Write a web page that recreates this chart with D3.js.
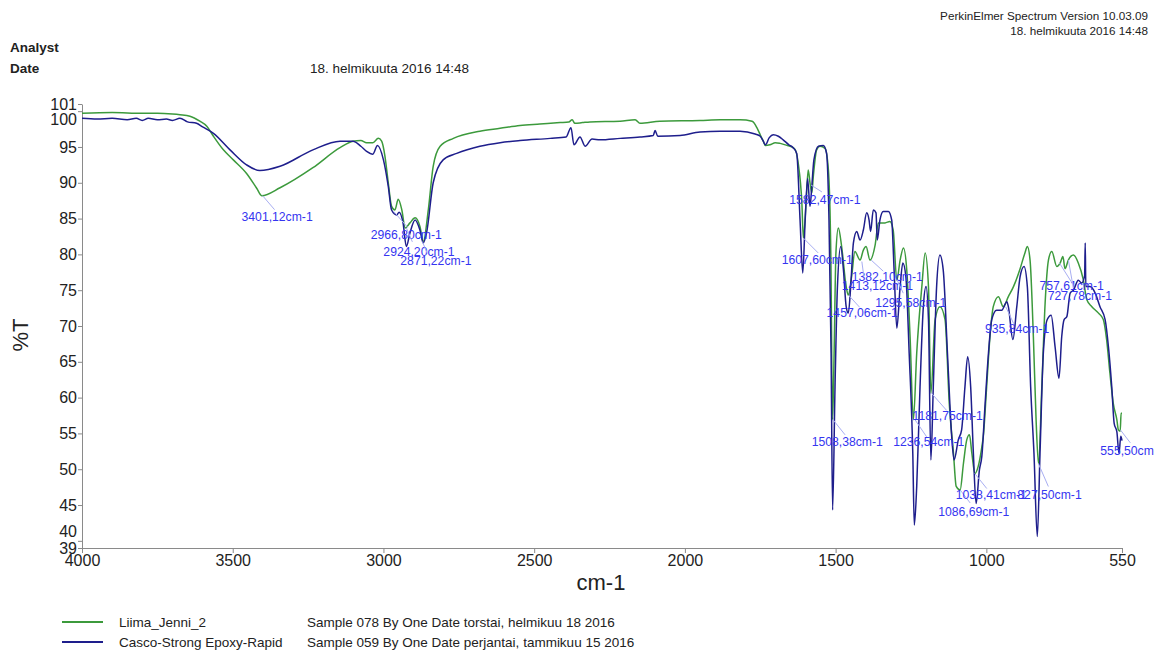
<!DOCTYPE html>
<html>
<head>
<meta charset="utf-8">
<script src="https://cdn.jsdelivr.net/npm/d3@7"></script>
<style>
html,body{margin:0;padding:0;background:#fff;overflow:hidden;}
svg{display:block;font-family:Arial,"Liberation Sans",sans-serif;}
</style>
</head>
<body>
<svg id="chart" width="1154" height="650"></svg>
<script>
// ---------- data ----------
const seriesNames = ["Liima_Jenni_2", "Casco-Strong Epoxy-Rapid"];
const seriesInfo = ["Sample 078 By One Date torstai, helmikuu 18 2016",
                    "Sample 059 By One Date perjantai, tammikuu 15 2016"];

const greenWn = [4000,3900,3800,3750,3700,3675,3642,3609,3586,3564,3531,3498,3454,3420,3404,3343,3234,3144,3101,3075,3056,3035,3017,3006,2995,2984,2973,2962,2951,2939,2928,2912,2895,2879,2868,2851,2835,2812,2768,2680,2613,2547,2481,2414,2385,2374,2365,2340,2315,2215,2165,2149,2083,1950,1883,1817,1777,1760,1750,1740,1733,1718,1700,1684,1660,1651,1635,1624,1612,1607,1598,1591,1585,1579,1574,1563,1552,1535,1524,1516,1510,1505,1499,1491,1480,1465,1458,1447,1436,1419,1408,1399,1386,1369,1358,1336,1320,1309,1297,1286,1275,1264,1253,1242,1231,1214,1203,1192,1184,1170,1154,1137,1123,1109,1100,1087,1076,1065,1056,1048,1038,1027,1015,1010,999,988,977,960,944,927,910,888,872,864,855,844,835,827,816,805,794,783,766,755,746,739,728,711,695,678,667,650,628,612,601,590,579,567,562,556,553,550];
const greenT  = [99.7,99.8,99.7,99.7,99.6,99.5,99.3,98.6,97.9,96.5,94.6,93.2,91.3,89.2,88.2,89.3,92.1,94.9,95.8,95.9,95.6,95.6,96.2,95.8,93.7,90.0,86.7,86.2,87.7,86.2,83.7,84.4,85.1,83.9,81.8,86.3,92.3,95.1,96.2,97.2,97.6,98.0,98.2,98.4,98.5,98.8,98.3,98.4,98.5,98.6,98.8,98.3,98.6,98.7,98.8,98.8,98.6,97.6,96.7,95.8,95.2,95.3,95.6,95.5,95.2,95.1,94.7,92.7,87.2,82.3,87.2,91.8,90.0,88.6,90.9,94.6,95.1,94.8,91.8,80.2,56.9,66.2,80.2,83.7,81.1,75.5,74.3,76.9,80.4,79.2,80.6,81.1,79.2,81.3,84.4,84.4,84.6,83.4,76.4,79.2,80.9,77.8,68.5,56.9,66.2,75.5,80.2,75.5,60.6,70.9,72.7,70.9,59.2,52.2,47.6,47.1,50.8,54.1,54.8,52.2,49.4,50.4,53.1,54.6,61.5,68.5,72.7,74.1,72.7,74.1,75.5,78.0,80.2,81.1,79.2,68.5,56.9,50.8,61.5,73.2,79.2,80.4,78.3,78.8,79.7,78.0,79.2,79.9,78.8,76.4,73.7,72.7,71.8,70.9,68.1,63.4,59.2,56.9,55.5,55.3,57.8,57.8];

const blueWn = [4000,3950,3900,3850,3820,3800,3780,3750,3720,3700,3675,3650,3620,3600,3564,3509,3454,3410,3343,3234,3144,3101,3075,3056,3035,3020,3000,2984,2973,2956,2948,2935,2924,2912,2895,2879,2868,2857,2835,2802,2757,2680,2613,2547,2447,2394,2378,2368,2348,2331,2308,2282,2215,2149,2105,2099,2090,2016,1950,1883,1817,1767,1750,1740,1733,1720,1707,1690,1674,1655,1641,1629,1618,1609,1601,1593,1585,1579,1572,1557,1541,1530,1522,1515,1510,1502,1494,1483,1474,1465,1458,1450,1441,1430,1419,1408,1397,1389,1384,1375,1366,1362,1353,1342,1325,1314,1306,1297,1286,1277,1267,1256,1244,1239,1231,1220,1209,1200,1192,1184,1176,1165,1154,1143,1129,1115,1107,1093,1082,1071,1062,1052,1043,1034,1023,1015,1004,993,982,966,949,932,927,912,899,888,875,864,853,842,831,822,811,798,785,772,759,750,742,733,722,711,695,684,674,672,670,656,639,623,606,595,584,576,567,560,554,550];
const blueT  = [99.0,98.9,99.0,98.8,99.0,98.7,99.0,98.8,98.9,98.7,99.0,98.5,98.3,97.8,96.9,94.6,92.5,91.7,92.3,94.6,95.8,95.8,95.1,94.4,94.0,95.2,93.2,89.5,86.2,85.5,85.9,84.4,81.1,83.0,84.8,83.4,81.6,83.0,90.0,93.2,94.1,95.1,95.6,95.9,96.2,96.4,97.7,95.3,96.4,95.1,96.1,96.0,96.2,96.4,96.6,97.3,96.5,96.6,97.1,97.2,97.2,96.8,96.5,95.8,95.3,96.3,96.7,96.5,96.0,95.3,94.9,94.1,84.8,77.4,84.8,90.6,86.7,89.5,93.2,95.1,95.2,94.1,84.8,66.2,44.3,61.5,75.5,81.1,77.8,72.7,71.8,75.5,81.6,83.2,82.0,83.4,85.8,84.8,83.2,86.2,85.8,82.0,84.8,86.0,86.0,84.8,77.8,69.7,75.5,78.8,76.9,66.2,52.2,42.2,47.6,61.5,72.7,75.5,70.9,51.3,61.5,75.5,79.9,77.8,66.2,54.6,51.3,54.1,55.5,61.5,65.7,61.5,52.2,45.2,49.9,51.8,59.2,66.2,70.9,72.2,72.2,73.4,72.7,68.1,72.7,76.9,78.3,75.5,61.5,52.2,40.6,52.2,66.2,70.9,71.5,67.1,62.7,68.5,70.9,71.3,74.6,75.0,76.4,76.0,77.0,81.6,75.5,75.5,74.6,72.7,70.9,67.1,61.5,56.4,55.2,52.2,54.6,54.0];

const xTicks = [4000,3500,3000,2500,2000,1500,1000,550];
const yTicks = [39,40,45,50,55,60,65,70,75,80,85,90,95,100,101];

const peakText = ["3401,12cm-1","2966,80cm-1","2924,20cm-1","2871,22cm-1","1582,47cm-1","1607,60cm-1","1382,10cm-1","1413,12cm-1","1295,58cm-1","1457,06cm-1","1508,38cm-1","1236,54cm-1","1181,75cm-1","1086,69cm-1","1038,41cm-1","827,50cm-1","935,84cm-1","757,61cm-1","727,78cm-1","555,50cm-1"];
const peakWn = [3401,2966,2924,2871,1582,1607.6,1382,1413,1295.6,1457,1508.4,1236.5,1181.75,1086.7,1038.4,827.5,935.8,757.6,727.8,555.5];
const peakT  = [88.2,86.0,83.7,81.8,89.7,82.3,79.2,79.0,76.4,74.3,56.9,56.9,60.6,47.1,49.4,50.8,72.7,78.8,79.2,55.5];

// ---------- layout (not data) ----------
const plot = {left: 82, right: 1122, top: 104, bottom: 548};
// label offsets relative to the peak point: [text dx, text dy, leader dx, leader dy]
const peakLayout = [[-21,25.6,12,14],[-23,27.5,14,16],[-23,27.7,6,14],[-22,24,5,12],[-21.6,19,11,7],[-21.5,26,15,15],[-19.5,20.5,12,11],[-20,28.5,2,15],[-22,27,6,13],[-22,21.4,11,12],[-21.4,26.5,12,15],[-21.8,26.2,11.6,17],[-19,26.7,15,17],[-22,25.7,10,13],[-19,25.5,12,15],[-21,35.5,10,23],[-20.7,26.6,8,17],[-20,27,12,19],[-20.7,40,5,28],[-20,25,10,13]];
const yLabelShift = {100: 8, 40: -9};
const colGreen = "#3c9a3c", colBlue = "#1e1e8c", colAxis = "#8a8a8a", colText = "#222";
const colPeak = "#3535f0", colLeader = "#a8aef2";

const svg = d3.select("#chart");
const x = d3.scaleLinear().domain([4000, 550]).range([plot.left, plot.right]);
const y = d3.scaleLinear().domain([39, 101]).range([plot.bottom, plot.top]);

// header
svg.append("text").attr("x", 1148).attr("y", 20).attr("text-anchor","end")
  .attr("font-size", 11.7).attr("fill", colText).text("PerkinElmer Spectrum Version 10.03.09");
svg.append("text").attr("x", 1148).attr("y", 35).attr("text-anchor","end")
  .attr("font-size", 11.7).attr("fill", colText).text("18. helmikuuta 2016 14:48");
svg.append("text").attr("x", 10).attr("y", 52).attr("font-size", 13.5).attr("font-weight","bold")
  .attr("fill", colText).text("Analyst");
svg.append("text").attr("x", 10).attr("y", 73).attr("font-size", 13.5).attr("font-weight","bold")
  .attr("fill", colText).text("Date");
svg.append("text").attr("x", 310).attr("y", 73).attr("font-size", 13.5)
  .attr("fill", colText).text("18. helmikuuta 2016 14:48");

// axes
const xAxis = d3.axisBottom(x).tickValues(xTicks).tickSize(5).tickSizeOuter(0).tickFormat(d3.format("d"));
const gx = svg.append("g").attr("transform", `translate(0,${plot.bottom})`).call(xAxis);
gx.select(".domain").attr("stroke", colAxis);
gx.selectAll(".tick line").attr("stroke", colAxis);
gx.selectAll(".tick text").attr("font-size", 16).attr("fill", colText).attr("font-family","Arial, 'Liberation Sans', sans-serif").attr("dy", "0.95em").attr("y", 3);

const yAxis = d3.axisLeft(y).tickValues(yTicks).tickSize(4).tickSizeOuter(0).tickFormat(d3.format("d"));
const gy = svg.append("g").attr("transform", `translate(${plot.left},0)`).call(yAxis);
gy.select(".domain").attr("stroke", colAxis);
gy.selectAll(".tick line").attr("stroke", colAxis);
gy.selectAll(".tick text").attr("font-size", 16).attr("fill", colText).attr("font-family","Arial, 'Liberation Sans', sans-serif")
  .attr("x", -5).attr("dy", d => (0.32 * 16 + (yLabelShift[d] || 0)) + "px");

svg.append("text").attr("transform", `translate(28,335) rotate(-90)`).attr("text-anchor","middle")
  .attr("font-size", 22).attr("fill", colText).text("%T");
svg.append("text").attr("x", 601).attr("y", 590).attr("text-anchor","middle")
  .attr("font-size", 22).attr("fill", colText).text("cm-1");

// spectra
const line = d3.line().x(d => x(d[0])).y(d => y(d[1])).curve(d3.curveMonotoneX);
const greenData = greenWn.map((w,i) => [w, greenT[i]]);
const blueData = blueWn.map((w,i) => [w, blueT[i]]);

svg.append("path").datum(greenData).attr("d", line).attr("fill","none")
  .attr("stroke", colGreen).attr("stroke-width", 1.5).attr("stroke-linejoin","round");
svg.append("path").datum(blueData).attr("d", line).attr("fill","none")
  .attr("stroke", colBlue).attr("stroke-width", 1.5).attr("stroke-linejoin","round");

// peak labels
peakText.forEach((t, i) => {
  const px = x(peakWn[i]), py = y(peakT[i]);
  const L = peakLayout[i];
  svg.append("line").attr("x1", px).attr("y1", py).attr("x2", px + L[2]).attr("y2", py + L[3])
    .attr("stroke", colLeader).attr("stroke-width", 1);
  svg.append("text").attr("x", px + L[0]).attr("y", py + L[1]).attr("font-size", 12.2)
    .attr("fill", colPeak).text(t);
});

// legend
const legY = [622, 642];
const legCols = [colGreen, colBlue];
seriesNames.forEach((n, i) => {
  svg.append("line").attr("x1", 62).attr("x2", 103).attr("y1", legY[i]).attr("y2", legY[i])
    .attr("stroke", legCols[i]).attr("stroke-width", 2);
  svg.append("text").attr("x", 119).attr("y", legY[i] + 5).attr("font-size", 13.5).attr("fill", colText).text(n);
  svg.append("text").attr("x", 307).attr("y", legY[i] + 5).attr("font-size", 13.5).attr("fill", colText).text(seriesInfo[i]);
});
</script>
</body>
</html>
